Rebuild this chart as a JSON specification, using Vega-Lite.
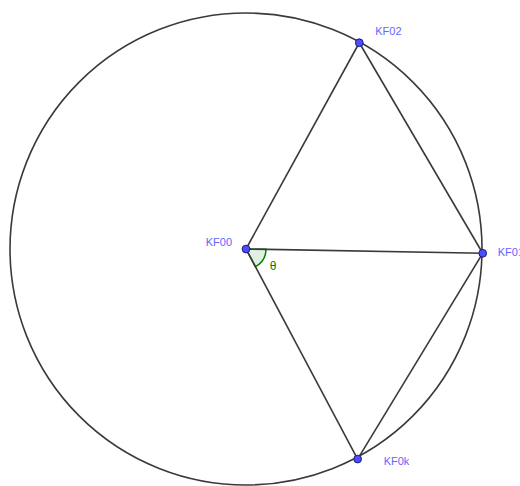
{
  "$schema": "https://vega.github.io/schema/vega-lite/v6.json",
  "width": 520,
  "height": 486,
  "autosize": {"type": "none"},
  "padding": 0,
  "background": "white",
  "config": {"view": {"stroke": null}},
  "datasets": {
    "points": [
      {"name": "KF00", "x": 0, "y": 0},
      {"name": "KF01", "x": 1.003, "y": -0.018},
      {"name": "KF02", "x": 0.48, "y": 0.874},
      {"name": "KF0k", "x": 0.473, "y": -0.89}
    ],
    "segments": [
      {"from": "KF00", "to": "KF02", "x": 0, "y": 0, "xe": 0.48, "ye": 0.874},
      {"from": "KF00", "to": "KF01", "x": 0, "y": 0, "xe": 1.003, "ye": -0.018},
      {"from": "KF00", "to": "KF0k", "x": 0, "y": 0, "xe": 0.473, "ye": -0.89},
      {"from": "KF02", "to": "KF01", "x": 0.48, "y": 0.874, "xe": 1.003, "ye": -0.018},
      {"from": "KF01", "to": "KF0k", "x": 1.003, "y": -0.018, "xe": 0.473, "ye": -0.89}
    ],
    "circle": [{"x": 0, "y": 0}],
    "angle": [{"x": 0, "y": 0, "start": 91, "end": 152, "label": "θ"}]
  },
  "encoding": {
    "x": {"field": "x", "type": "quantitative", "scale": {"domain": [-1.0424, 1.161], "nice": false, "zero": false}, "axis": null},
    "y": {"field": "y", "type": "quantitative", "scale": {"domain": [-1.0042, 1.0551], "nice": false, "zero": false}, "axis": null}
  },
  "layer": [
    {
      "data": {"name": "circle"},
      "mark": {"type": "point", "shape": "circle", "filled": false, "size": 222784, "stroke": "#3a3a3a", "strokeWidth": 1.6, "opacity": 1}
    },
    {
      "data": {"name": "angle"},
      "mark": {"type": "arc", "radius": 20, "fill": "#007f00", "fillOpacity": 0.12, "stroke": "#007f00", "strokeWidth": 1.5},
      "encoding": {
        "theta": {"field": "start", "type": "quantitative", "stack": null, "scale": {"domain": [0, 360], "range": [0, 6.283185307], "zero": false, "nice": false}},
        "theta2": {"field": "end"}
      }
    },
    {
      "data": {"name": "segments"},
      "mark": {"type": "rule", "stroke": "#3a3a3a", "strokeWidth": 1.6},
      "encoding": {
        "x2": {"field": "xe"},
        "y2": {"field": "ye"}
      }
    },
    {
      "data": {"name": "angle"},
      "mark": {"type": "text", "color": "#007f00", "fontSize": 12, "font": "Liberation Sans", "dx": 27, "dy": 17, "align": "center", "baseline": "middle"},
      "encoding": {"text": {"field": "label"}}
    },
    {
      "data": {"name": "points"},
      "mark": {"type": "point", "shape": "circle", "filled": true, "size": 60, "fill": "#4d4dff", "stroke": "#1a1a80", "strokeWidth": 1, "opacity": 1}
    },
    {
      "data": {"name": "points"},
      "transform": [{"filter": "datum.name === 'KF00'"}],
      "mark": {"type": "text", "color": "#6464ff", "fontSize": 11, "font": "Liberation Sans", "align": "right", "baseline": "middle", "dx": -14, "dy": -6},
      "encoding": {"text": {"field": "name"}}
    },
    {
      "data": {"name": "points"},
      "transform": [{"filter": "datum.name === 'KF02'"}],
      "mark": {"type": "text", "color": "#6464ff", "fontSize": 11, "font": "Liberation Sans", "align": "left", "baseline": "middle", "dx": 16, "dy": -11},
      "encoding": {"text": {"field": "name"}}
    },
    {
      "data": {"name": "points"},
      "transform": [{"filter": "datum.name === 'KF01'"}],
      "mark": {"type": "text", "color": "#6464ff", "fontSize": 11, "font": "Liberation Sans", "align": "left", "baseline": "middle", "dx": 15, "dy": 0},
      "encoding": {"text": {"field": "name"}}
    },
    {
      "data": {"name": "points"},
      "transform": [{"filter": "datum.name === 'KF0k'"}],
      "mark": {"type": "text", "color": "#6464ff", "fontSize": 11, "font": "Liberation Sans", "align": "left", "baseline": "middle", "dx": 26, "dy": 3},
      "encoding": {"text": {"field": "name"}}
    }
  ]
}
